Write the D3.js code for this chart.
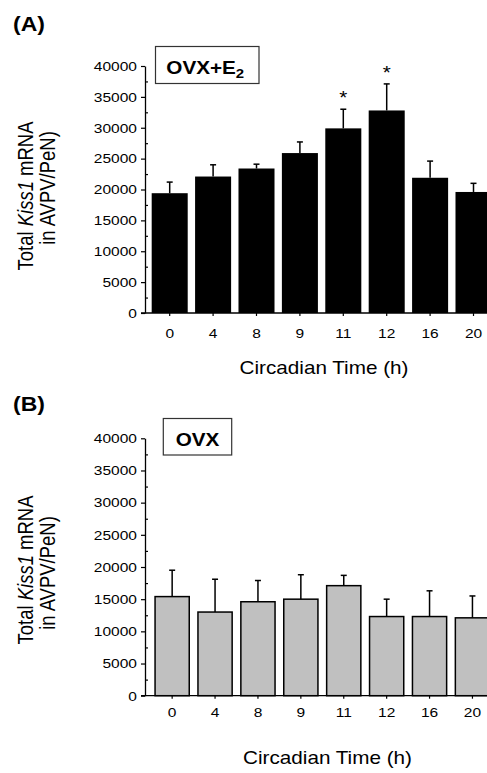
<!DOCTYPE html>
<html>
<head>
<meta charset="utf-8">
<script src="https://cdn.jsdelivr.net/npm/d3@7"></script>
<style>
  body { margin: 0; background: #fff; }
  svg { display: block; font-family: "Liberation Sans", Arial, sans-serif; }
  .ax text { font-size: 13.5px; fill: #000; }
</style>
</head>
<body>
<div id="chart"></div>
<script>
// data
const hours = ["0", "4", "8", "9", "11", "12", "16", "20"];
const ovxE2Mean = [19400, 22100, 23400, 25900, 29900, 32800, 21900, 19600];
const ovxE2Sem = [1800, 1900, 700, 1800, 3100, 4300, 2700, 1400];
const ovxE2Sig = [false, false, false, false, true, true, false, false];
const ovxMean = [15400, 13000, 14600, 15000, 17100, 12300, 12300, 12100];
const ovxSem = [4100, 5100, 3300, 3800, 1600, 2700, 4000, 3400];
const ovxSig = [false, false, false, false, false, false, false, false];
const yTicks = [0, 5000, 10000, 15000, 20000, 25000, 30000, 35000, 40000];
const yMinor = [2500, 7500, 12500, 17500, 22500, 27500, 32500, 37500];

const W = 487, H = 773;
const SX = 1.15; // the figure is stretched sideways a bit

const svg = d3.select('#chart').append('svg')
  .attr('width', W).attr('height', H);

function stretched(g, x, y, rot) {
  return g.attr('transform', `translate(${x},${y}) scale(${SX},1)` + (rot ? ` rotate(${rot})` : ''));
}

function drawPanel(p) {
  const g = svg.append('g');
  const data = hours.map((h, i) => ({h: h, mean: p.mean[i], sem: p.sem[i], sig: p.sig[i]}));

  const x = d3.scaleBand().domain(hours).range(p.xRange)
    .paddingInner(p.pin).paddingOuter(p.pout);
  const y = d3.scaleLinear().domain([0, 40000]).range([p.y0, p.y1]);

  // panel letter
  stretched(g.append('text'), 13, p.letterY)
    .attr('font-size', 20).attr('font-weight', 'bold').text(p.letter);

  // bars
  g.append('g').selectAll('rect').data(data).join('rect')
    .attr('x', d => x(d.h) + p.inset)
    .attr('width', x.bandwidth() - 2 * p.inset)
    .attr('y', d => y(d.mean))
    .attr('height', d => y(0) - y(d.mean))
    .attr('fill', p.fill)
    .attr('stroke', p.stroke)
    .attr('stroke-width', p.stroke == 'none' ? 0 : 1.5);

  // upper error bars
  const eb = g.append('g').attr('stroke', '#000').attr('stroke-width', 1.5);
  eb.selectAll('line.v').data(data).join('line').attr('class', 'v')
    .attr('x1', d => x(d.h) + x.bandwidth() / 2).attr('x2', d => x(d.h) + x.bandwidth() / 2)
    .attr('y1', d => y(d.mean)).attr('y2', d => y(d.mean + d.sem));
  eb.selectAll('line.c').data(data).join('line').attr('class', 'c')
    .attr('x1', d => x(d.h) + x.bandwidth() / 2 - 3).attr('x2', d => x(d.h) + x.bandwidth() / 2 + 3)
    .attr('y1', d => y(d.mean + d.sem)).attr('y2', d => y(d.mean + d.sem));

  // significance stars
  data.filter(d => d.sig).forEach(d => {
    stretched(g.append('text'), x(d.h) + x.bandwidth() / 2, y(d.mean + d.sem) - 5)
      .attr('text-anchor', 'middle').attr('font-size', 18).text('*');
  });

  // y axis
  const ya = g.append('g').attr('class', 'ax').attr('transform', `translate(${p.xRange[0]},0)`)
    .call(d3.axisLeft(y).tickValues(yTicks).tickFormat(d3.format('d'))
      .tickSize(4).tickPadding(3).tickSizeOuter(0));
  ya.attr('font-family', null).attr('font-size', null);
  ya.selectAll('text').attr('transform', `scale(${SX},1)`);
  ya.select('.domain').attr('stroke-width', 1.3);
  ya.selectAll('.tick line').attr('stroke-width', 1.2);
  g.append('g').attr('transform', `translate(${p.xRange[0]},0)`)
    .call(d3.axisRight(y).tickValues(yMinor).tickSize(3).tickFormat(''))
    .call(a => a.select('.domain').remove())
    .selectAll('line').attr('stroke-width', 1.2);

  // x axis
  const xa = g.append('g').attr('class', 'ax').attr('transform', `translate(0,${y(0)})`)
    .call(d3.axisBottom(x).tickSize(3).tickPadding(p.xPad).tickSizeOuter(0));
  xa.attr('font-family', null).attr('font-size', null);
  xa.select('.domain').remove();
  xa.selectAll('text').attr('transform', `scale(${SX},1)`);
  xa.selectAll('.tick line').attr('stroke-width', 1.2);
  g.append('line').attr('x1', p.xRange[0] - 4).attr('x2', W)
    .attr('y1', y(0)).attr('y2', y(0)).attr('stroke', '#000').attr('stroke-width', 1.3);

  // x title
  stretched(g.append('text'), p.xTitle[0], p.xTitle[1])
    .attr('text-anchor', 'middle').attr('font-size', 18).text('Circadian Time (h)');

  // y title, two lines
  const t1 = stretched(g.append('text'), 32.5, p.yt1, -90)
    .attr('text-anchor', 'middle').attr('font-size', 18.5);
  t1.append('tspan').text('Total ');
  t1.append('tspan').attr('font-style', 'italic').text('Kiss1');
  t1.append('tspan').text(' mRNA');
  stretched(g.append('text'), 55, p.yt2, -90)
    .attr('text-anchor', 'middle').attr('font-size', 18.5).text('in AVPV/PeN)');

  // group box
  g.append('rect').attr('x', p.box[0]).attr('y', p.box[1])
    .attr('width', p.box[2]).attr('height', p.box[3])
    .attr('fill', '#fff').attr('stroke', '#333').attr('stroke-width', 1.2);
  const bt = stretched(g.append('text'), p.box[0] + p.box[2] / 2 + p.boxShift, p.box[1] + 27.5)
    .attr('text-anchor', 'middle').attr('font-size', 18).attr('font-weight', 'bold');
  bt.append('tspan').text(p.group);
  if (p.sub) bt.append('tspan').attr('font-size', 13).attr('dy', 4).text(p.sub);
}

drawPanel({
  letter: '(A)', letterY: 31,
  mean: ovxE2Mean, sem: ovxE2Sem, sig: ovxE2Sig,
  xRange: [145, 498.2], pin: 0.17, pout: 0.154,
  y0: 313, y1: 66, fill: '#000', stroke: 'none', inset: 0,
  xPad: 12, xTitle: [324, 374], yt1: 196, yt2: 188,
  box: [155.5, 46.5, 103.5, 37], group: 'OVX+E', sub: '2', boxShift: -2
});

drawPanel({
  letter: '(B)', letterY: 411,
  mean: ovxMean, sem: ovxSem, sig: ovxSig,
  xRange: [145, 499.6], pin: 0.168, pout: 0.217,
  y0: 695.7, y1: 438.3, fill: '#c0c0c0', stroke: '#000', inset: 0.75,
  xPad: 9, xTitle: [327.5, 764], yt1: 570, yt2: 573,
  box: [163.3, 418.5, 68.4, 36.5], group: 'OVX', sub: null, boxShift: 0
});
</script>
</body>
</html>
